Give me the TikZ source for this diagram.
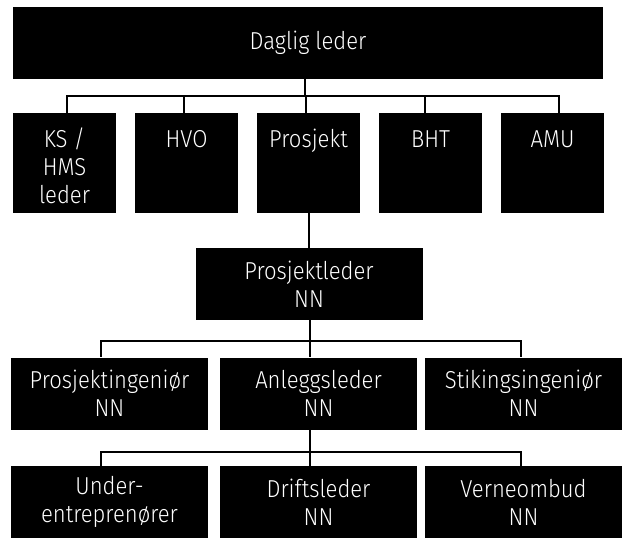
\documentclass[tikz,border=0pt]{standalone}
\usepackage{fontspec}
\setmainfont[FakeStretch=0.9]{Fira Sans Light}
\newcommand{\orgfont}{\fontsize{24.5}{28}\selectfont}
\newcommand{\toptext}[1]{\parbox[c][100pt][t]{103pt}{\centering\rule{0pt}{34pt}#1}}
\tikzset{
	orgbox/.style={fill=black, text=white, inner sep=0pt, align=center, font=\orgfont},
	smallbox/.style={orgbox, minimum width=103pt, minimum height=100pt},
	widebox/.style={orgbox, minimum width=197pt, minimum height=72pt},
	link/.style={draw=black, line width=2pt},
}
\begin{document}
\begin{tikzpicture}[x=1pt,y=-1pt]
	\useasboundingbox (0,0) rectangle (622,538);
	\node[orgbox, minimum width=590pt, minimum height=72pt] (daglig) at (308,43) {Daglig leder};
	\node[smallbox] (ks) at (64.5,163) {\toptext{KS /\\HMS\\leder}};
	\node[smallbox] (hvo) at (186.5,163) {\toptext{HVO}};
	\node[smallbox] (prosjekt) at (308.5,163) {\toptext{Prosjekt}};
	\node[smallbox] (bht) at (430.5,163) {\toptext{BHT}};
	\node[smallbox] (amu) at (552.5,163) {\toptext{AMU}};
	\node[orgbox, minimum width=227pt, minimum height=72pt] (pl) at (309,284) {Prosjektleder\\NN};
	\node[widebox] (ping) at (109.5,393.5) {Prosjektingeniør\\NN};
	\node[widebox] (anlegg) at (318.5,393.5) {Anleggsleder\\NN};
	\node[widebox] (stik) at (523.5,393.5) {Stikingsingeniør\\NN};
	\node[widebox] (ue) at (109.5,502) {Under-\\entreprenører};
	\node[widebox] (drift) at (318.5,502) {Driftsleder\\NN};
	\node[widebox] (verne) at (523.5,502) {Verneombud\\NN};
	% daglig leder to staff
	\foreach \n/\dx in {ks/2,hvo/-3,prosjekt/-3,bht/-6,amu/6}
		\draw[link] ([xshift=-3pt]daglig.south) -- ++(0,17) -| ([xshift=\dx pt]\n.north);
	\draw[link] (pl.north |- prosjekt.south) -- (pl.north);
	% prosjektleder
	\foreach \n/\dx in {ping/-8.5,anlegg/-8.5,stik/-2.5}
		\draw[link] ([xshift=1pt]pl.south) -- ++(0,21) -| ([xshift=\dx pt]\n.north);
	% anleggsleder
	\foreach \n/\dx in {ue/-8.5,drift/-8.5,verne/-2.5}
		\draw[link] ([xshift=-8.5pt]anlegg.south) -- ++(0,22) -| ([xshift=\dx pt]\n.north);
\end{tikzpicture}
\end{document}
